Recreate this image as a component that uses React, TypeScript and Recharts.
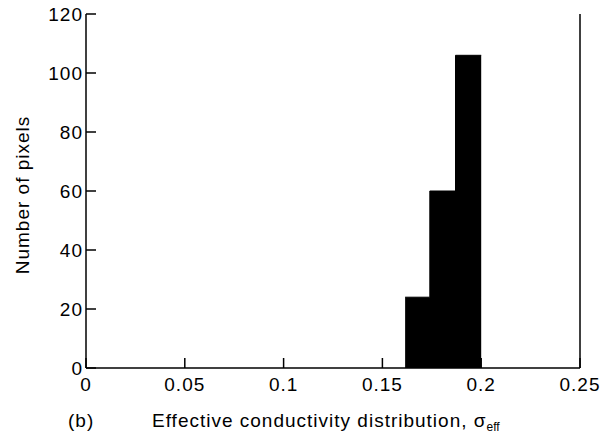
import React from 'react';
import { AreaChart, Area, XAxis, YAxis } from 'recharts';

// histogram bin edges (sigma_eff) and pixel counts per bin
const binEdges = [0.1615, 0.174, 0.187, 0.2];
const pixelCounts = [24, 60, 106];
const xTicks = [0, 0.05, 0.1, 0.15, 0.2, 0.25];
const yTicks = [0, 20, 40, 60, 80, 100, 120];

const data = binEdges.map((x, i) => ({
    x,
    count: pixelCounts[Math.min(i, pixelCounts.length - 1)],
}));

const font = '"Liberation Sans", Arial, Helvetica, sans-serif';
const tickStyle = { fill: '#000', fontSize: 19, fontFamily: font, letterSpacing: 1 };
const titleStyle: React.CSSProperties = {
    position: 'absolute', fontFamily: font, fontSize: 19, lineHeight: '19px', letterSpacing: 1,
    whiteSpace: 'nowrap', color: '#000',
};

const App: React.FC = () => {
    return (
        <div style={{ position: 'absolute', left: 0, top: 0, width: 609, height: 438, background: '#fff' }}>
            <AreaChart width={609} height={438} data={data} margin={{ top: 14, right: 0, bottom: 0, left: 0 }}>
                <XAxis
                    dataKey="x"
                    type="number"
                    domain={[0, 0.25]}
                    ticks={xTicks}
                    allowDataOverflow
                    height={70}
                    tickSize={-10}
                    tickMargin={20}
                    tick={tickStyle}
                    axisLine={{ stroke: '#000', strokeWidth: 1.5 }}
                    tickLine={{ stroke: '#000', strokeWidth: 1.5 }}
                />
                <YAxis
                    yAxisId="left"
                    domain={[0, 120]}
                    ticks={yTicks}
                    width={86}
                    tickSize={-10}
                    tickMargin={13}
                    tick={tickStyle}
                    axisLine={{ stroke: '#000', strokeWidth: 1.5 }}
                    tickLine={{ stroke: '#000', strokeWidth: 1.5 }}
                />
                <YAxis
                    yAxisId="right"
                    orientation="right"
                    domain={[0, 120]}
                    ticks={yTicks}
                    width={29}
                    tickSize={-10}
                    tick={false}
                    axisLine={{ stroke: '#000', strokeWidth: 1.5 }}
                    tickLine={{ stroke: '#000', strokeWidth: 1.5 }}
                />
                <Area
                    yAxisId="left"
                    type="stepAfter"
                    dataKey="count"
                    stroke="#000"
                    strokeWidth={1}
                    fill="#000"
                    fillOpacity={1}
                    isAnimationActive={false}
                />
            </AreaChart>
            <div style={{ ...titleStyle, left: 22, top: 195, transform: 'translate(-50%, -50%) rotate(-90deg)' }}>
                Number of pixels
            </div>
            <div style={{ ...titleStyle, left: 68, top: 411 }}>(b)</div>
            <div style={{ ...titleStyle, left: 152, top: 411 }}>
                Effective conductivity distribution, σ
                <sub style={{ fontSize: 12, letterSpacing: 0, verticalAlign: '-4px' }}>eff</sub>
            </div>
        </div>
    );
};

export default App;
